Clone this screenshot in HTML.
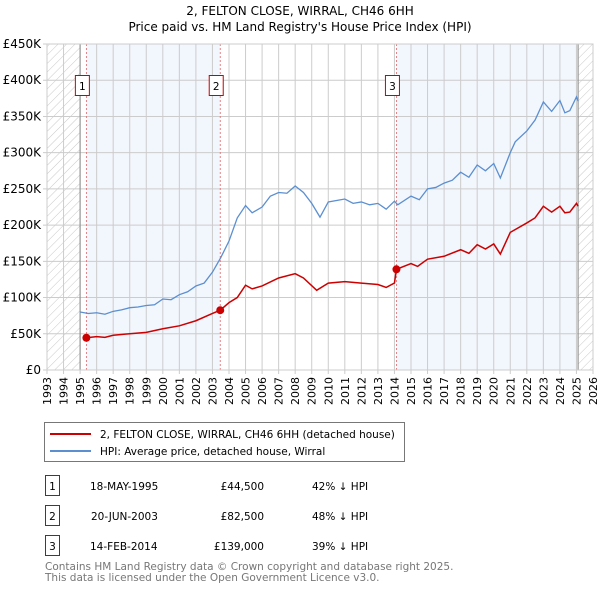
<!DOCTYPE html>
<html><head><meta charset="utf-8"><style>
body{margin:0;background:#fff;font-family:"DejaVu Sans","Liberation Sans",sans-serif;}
svg text{font-family:"DejaVu Sans","Liberation Sans",sans-serif;}
</style></head><body>
<svg id="c" width="600" height="590" xmlns="http://www.w3.org/2000/svg">
<defs><pattern id="hatch" width="6" height="6" patternUnits="userSpaceOnUse" patternTransform="rotate(45)"><line x1="0" y1="0" x2="0" y2="6" stroke="#bbb" stroke-width="0.8"/></pattern></defs>
<text x="300" y="15" text-anchor="middle" font-size="12">2, FELTON CLOSE, WIRRAL, CH46 6HH</text>
<text x="300" y="31" text-anchor="middle" font-size="12">Price paid vs. HM Land Registry's House Price Index (HPI)</text>
<g id="plot"></g>
<g>
<rect x="44.5" y="422.5" width="360" height="39" fill="#fff" stroke="#777"/>
<line x1="50" y1="434" x2="91" y2="434" stroke="#cc0000" stroke-width="2"/>
<text x="100" y="438" font-size="10.5">2, FELTON CLOSE, WIRRAL, CH46 6HH (detached house)</text>
<line x1="50" y1="451" x2="91" y2="451" stroke="#5b8fd0" stroke-width="2"/>
<text x="100" y="455" font-size="10.5">HPI: Average price, detached house, Wirral</text>
</g>
<g font-size="10.5">
<rect x="45.5" y="475.5" width="14" height="20" fill="#fff" stroke="#cc0000"/><text x="52.5" y="490" text-anchor="middle">1</text>
<text x="90" y="490">18-MAY-1995</text><text x="264" y="490" text-anchor="end">£44,500</text><text x="312" y="490">42% ↓ HPI</text>
<rect x="45.5" y="505.5" width="14" height="20" fill="#fff" stroke="#cc0000"/><text x="52.5" y="520" text-anchor="middle">2</text>
<text x="91" y="520">20-JUN-2003</text><text x="264" y="520" text-anchor="end">£82,500</text><text x="312" y="520">48% ↓ HPI</text>
<rect x="45.5" y="535.5" width="14" height="20" fill="#fff" stroke="#cc0000"/><text x="52.5" y="550" text-anchor="middle">3</text>
<text x="90" y="550">14-FEB-2014</text><text x="264" y="550" text-anchor="end">£139,000</text><text x="312" y="550">39% ↓ HPI</text>
</g>
<text x="45" y="570" font-size="10.5" fill="#777">Contains HM Land Registry data © Crown copyright and database right 2025.</text>
<text x="45" y="581" font-size="10.5" fill="#777">This data is licensed under the Open Government Licence v3.0.</text>
</svg>
<script>
const hpiYears=[1995.0,1995.5,1996,1996.5,1997,1997.5,1998,1998.5,1999,1999.5,2000,2000.5,2001,2001.5,2002,2002.5,2003,2003.5,2004,2004.5,2005,2005.4,2006,2006.5,2007,2007.5,2008,2008.5,2009,2009.5,2010,2010.5,2011,2011.5,2012,2012.5,2013,2013.5,2014,2014.2,2015,2015.5,2016,2016.5,2017,2017.5,2018,2018.5,2019,2019.5,2020,2020.4,2021,2021.3,2022,2022.5,2023,2023.5,2024,2024.3,2024.6,2025,2025.1];
const hpiValues=[80,78,79,77,81,83,86,87,89,90,98,97,104,108,116,120,135,155,178,210,227,217,225,240,245,244,254,245,230,211,232,234,236,230,232,228,230,222,233,228,240,235,250,252,258,262,273,266,283,275,285,265,300,315,330,345,370,357,372,355,358,377,371];
const saleYears=[1995.38,1996,1996.5,1997,1998,1999,2000,2001,2002,2003,2003.47,2004,2004.5,2005,2005.4,2006,2007,2008,2008.5,2009.3,2010,2011,2012,2013,2013.5,2014.0,2014.12,2015,2015.4,2016,2017,2018,2018.5,2019,2019.5,2020,2020.4,2021,2022,2022.5,2023,2023.5,2024,2024.3,2024.6,2025,2025.1];
const saleValues=[44.5,46,45,48,50,52,57,61,68,78,82.5,93,100,117,112,116,127,133,127,110,120,122,120,118,114,120,139,147,143,153,157,166,161,173,167,174,160,190,203,210,226,218,226,217,218,230,226];
const sales=[[1995.38,44.5],[2003.47,82.5],[2014.12,139]];
const yTicks=[0,50,100,150,200,250,300,350,400,450];
const yTickLabels=['£0','£50K','£100K','£150K','£200K','£250K','£300K','£350K','£400K','£450K'];
const xYears=[1993,1994,1995,1996,1997,1998,1999,2000,2001,2002,2003,2004,2005,2006,2007,2008,2009,2010,2011,2012,2013,2014,2015,2016,2017,2018,2019,2020,2021,2022,2023,2024,2025,2026];
const X0=47,X1=593,Y0=370,Y1=44;
const xs=y=>X0+(y-1993)/(2026-1993)*(X1-X0);
const ys=v=>Y0-v/450*(Y0-Y1);
const NS='http://www.w3.org/2000/svg';
const g=document.getElementById('plot');
function mk(t,a){const e=document.createElementNS(NS,t);for(const k in a)e.setAttribute(k,a[k]);g.appendChild(e);return e;}
let e;
e=mk('rect',{x:xs(1995.38),y:Y1,width:xs(2003.47)-xs(1995.38),height:Y0-Y1,fill:'#f2f6fd'});


e=mk('rect',{x:xs(2014.12),y:Y1,width:xs(2025.1)-xs(2014.12),height:Y0-Y1,fill:'#f2f6fd'});


e=mk('rect',{x:X0,y:Y1,width:xs(1995)-X0,height:Y0-Y1,fill:'url(#hatch)'});


e=mk('rect',{x:xs(2025.1),y:Y1,width:X1-xs(2025.1),height:Y0-Y1,fill:'url(#hatch)'});


xYears.forEach(y=>{
 e=mk('line',{x1:xs(y),x2:xs(y),y1:Y1,y2:Y0+4,stroke:'#ccc'});
 
 
 e=mk('text',{x:0,y:0,'font-size':11,'text-anchor':'end',transform:`translate(${xs(y)+4},${Y0+7}) rotate(-90)`});
 e.textContent=y;
 
 
});
yTicks.forEach((v,i)=>{
 e=mk('line',{x1:X0-4,x2:X1,y1:ys(v),y2:ys(v),stroke:'#ccc'});
 
 
 e=mk('text',{x:X0-6,y:ys(v)+4,'font-size':12,'text-anchor':'end'});
 e.textContent=yTickLabels[i];
 
 
});
e=mk('line',{x1:xs(1995),x2:xs(1995),y1:Y1,y2:Y0,stroke:'#888'});


e=mk('line',{x1:xs(2025.1),x2:xs(2025.1),y1:Y1,y2:Y0,stroke:'#888'});


sales.forEach((s,i)=>{
 e=mk('line',{x1:xs(s[0]),x2:xs(s[0]),y1:Y1,y2:Y0,stroke:'#e06666','stroke-dasharray':'2,2','stroke-width':0.8});
 
 
});
e=mk('polyline',{points:hpiYears.map((y,i)=>xs(y)+','+ys(hpiValues[i])).join(' '),fill:'none',stroke:'#5b8fd0','stroke-width':1.3});


e=mk('polyline',{points:saleYears.map((y,i)=>xs(y)+','+ys(saleValues[i])).join(' '),fill:'none',stroke:'#cc0000','stroke-width':1.5});


sales.forEach((s,i)=>{
 e=mk('circle',{cx:xs(s[0]),cy:ys(s[1]),r:4,fill:'#cc0000'});
 
 
 const bx=xs(s[0])-4;
 e=mk('rect',{x:bx-7,y:75.5,width:14,height:20,fill:'#fff',stroke:'#cc0000'});
 
 
 e=mk('text',{x:bx,y:90,'font-size':10.5,'text-anchor':'middle'});
 e.textContent=String(i+1);
 
 
});
e=mk('rect',{x:X0,y:Y1,width:X1-X0,height:Y0-Y1,fill:'none',stroke:'#ccc'});


</script>
</body></html>
